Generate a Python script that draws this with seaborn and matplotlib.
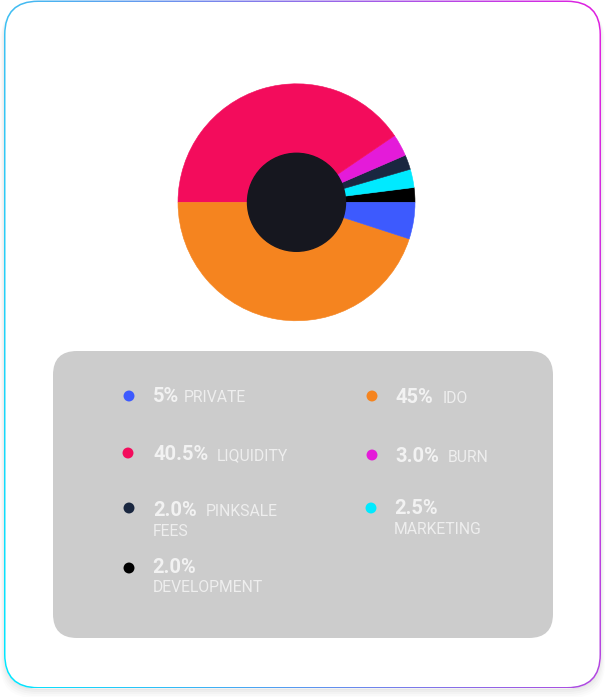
import numpy as np
import matplotlib
matplotlib.use('Agg')
import matplotlib.pyplot as plt
from matplotlib.patches import FancyBboxPatch, Circle
import seaborn as sns

# ── data ─────────────────────────────────────────────
categories = ['PRIVATE', 'IDO', 'LIQUIDITY', 'BURN', 'PINKSALE FEES', 'MARKETING', 'DEVELOPMENT']
shares = [5.0, 45.0, 40.5, 3.0, 2.0, 2.5, 2.0]
pct_labels = ['5%', '45%', '40.5%', '3.0%', '2.0%', '2.5%', '2.0%']
colors = ['#3d5afe', '#f5841f', '#f30c5c', '#e41bd9', '#1a2740', '#00eaff', '#000000']
# wedge order, counterclockwise from 3 o'clock
pie_order = ['DEVELOPMENT', 'MARKETING', 'PINKSALE FEES', 'BURN', 'LIQUIDITY', 'IDO', 'PRIVATE']

# legend layout (pixels): dot, percent text, label text (label may wrap to 2nd line)
dot_xy = [(129, 396), (372, 396), (128, 453), (372, 455), (129, 508), (371, 508), (129, 568)]
pct_xy = [(153, 401.5), (396, 403), (153, 460.5), (395, 462.5), (153, 516.5), (394, 514.5), (152.5, 573)]
lab_xy = [[(184, 401.5)], [(443, 403)], [(217, 460.5)], [(448, 462.5)],
          [(206, 516.5), (153, 535.5)], [(394, 534)], [(152.5, 592.5)]]
lab_lines = [['PRIVATE'], ['IDO'], ['LIQUIDITY'], ['BURN'], ['PINKSALE', 'FEES'],
             ['MARKETING'], ['DEVELOPMENT']]

sns.set_theme(style='white')
plt.rcParams['font.family'] = ['Roboto', 'DejaVu Sans']

W, H = 606, 697
fig = plt.figure(figsize=(W / 100, H / 100), dpi=100)
fig.patch.set_facecolor('white')
ax = fig.add_axes([0, 0, 1, 1])
ax.set_xlim(0, W)
ax.set_ylim(H, 0)
ax.axis('off')

# card shadow
for i, a in enumerate([0.025, 0.025, 0.02, 0.015, 0.01]):
    sh = FancyBboxPatch((4 - i, 3 + i), 597 + 2 * i, 687 + i,
                        boxstyle='round,pad=0,rounding_size=34',
                        fc='#000000', ec='none', alpha=a, zorder=0)
    ax.add_patch(sh)

# card with gradient border
outer = FancyBboxPatch((4, 0.5), 597, 688,
                       boxstyle='round,pad=0,rounding_size=34',
                       fc='white', ec='none', zorder=1)
ax.add_patch(outer)
tl, tr = np.array([0.25, 0.75, 0.95]), np.array([0.88, 0.12, 0.88])
bl, br = np.array([0.0, 0.91, 1.0]), np.array([0.70, 0.28, 0.88])
u = np.linspace(0, 1, 200)[None, :, None]
v = np.linspace(0, 1, 200)[:, None, None]
grad = (1 - v) * ((1 - u) * tl + u * tr) + v * ((1 - u) * bl + u * br)
im = ax.imshow(grad, extent=(4, 601, 688.5, 0.5), origin='upper',
               interpolation='bilinear', zorder=2, aspect='auto')
im.set_clip_path(outer)
inner = FancyBboxPatch((5.5, 2.0), 594, 685,
                       boxstyle='round,pad=0,rounding_size=32.5',
                       fc='white', ec='none', zorder=3)
ax.add_patch(inner)
ax.set_xlim(0, W)
ax.set_ylim(H, 0)

# legend panel
panel = FancyBboxPatch((53, 351), 500, 287,
                       boxstyle='round,pad=0,rounding_size=24',
                       fc='#cccccc', ec='none', zorder=4)
ax.add_patch(panel)

txt_col = '#eeeeee'
for i, cat in enumerate(categories):
    ax.scatter([dot_xy[i][0]], [dot_xy[i][1]], s=62, color=colors[i],
               edgecolors='none', zorder=6)
    ax.text(pct_xy[i][0], pct_xy[i][1], pct_labels[i], fontsize=14.5,
            fontweight='bold', color='#f2f2f2', va='baseline', ha='left', zorder=6)
    for (lx, ly), line in zip(lab_xy[i], lab_lines[i]):
        ax.text(lx, ly, line, fontsize=11.3, color=txt_col,
                va='baseline', ha='left', zorder=6)

# pie chart
cx, cy, r = 296.5, 202.3, 118.5
pax = fig.add_axes([(cx - r) / W, 1 - (cy + r) / H, 2 * r / W, 2 * r / H])
vals = [shares[categories.index(c)] for c in pie_order]
cols = [colors[categories.index(c)] for c in pie_order]
pax.pie(vals, colors=cols, startangle=0, counterclock=True,
        wedgeprops=dict(linewidth=0.4, edgecolor=None))
for w, c in zip(pax.patches, cols):
    w.set_edgecolor(c)
pax.add_patch(Circle((0, 0), 49 / r, color='#16171f', zorder=5))
pax.set_xlim(-1, 1)
pax.set_ylim(-1, 1)
pax.set_aspect('equal')
pax.axis('off')

fig.savefig('out.png', dpi=100, facecolor='white')
